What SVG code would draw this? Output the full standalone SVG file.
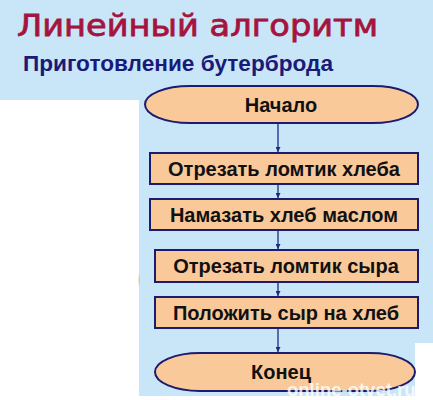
<svg xmlns="http://www.w3.org/2000/svg" width="433" height="400" viewBox="0 0 433 400">
<defs>
<style>
.node{fill:#fac99a;stroke:#1c1c6e;stroke-width:2}
.lbl{font-family:"Liberation Sans",Arial,sans-serif;font-weight:bold;font-size:20px;fill:#111;text-anchor:middle}
.conn{stroke:#1c2a80;stroke-width:1.3;fill:none}
</style>
<marker id="arr" viewBox="0 0 6 6" refX="6" refY="3" markerWidth="5" markerHeight="5" orient="auto" markerUnits="userSpaceOnUse">
<path d="M0,0 L6,3 L0,6 z" fill="#1c2a80"/>
</marker>
</defs>
<rect x="0" y="0" width="433" height="400" fill="#ffffff"/>
<rect x="0" y="0" width="433" height="100" fill="#c9e6f9"/>
<rect x="139" y="0" width="294" height="396" fill="#c9e6f9"/>
<rect x="415" y="343" width="18" height="57" fill="#ffffff"/>
<path d="M139.5,272 q-2,8 0,16 q1,-8 0,-16 z" fill="#f0c190"/>
<text x="17" y="36" font-family="DejaVu Sans, sans-serif" font-size="31" fill="#a5143f" stroke="#a5143f" stroke-width="0.8" textLength="361" lengthAdjust="spacingAndGlyphs">Линейный алгоритм</text>
<text x="23" y="71" font-family="Liberation Sans, Arial, sans-serif" font-weight="bold" font-size="21.5" fill="#1a1a78" textLength="310" lengthAdjust="spacingAndGlyphs">Приготовление бутерброда</text>
<g id="connectors">
<line class="conn" x1="278" y1="124" x2="278" y2="152" marker-end="url(#arr)"/>
<line class="conn" x1="278" y1="185" x2="278" y2="198" marker-end="url(#arr)"/>
<line class="conn" x1="278" y1="231" x2="278" y2="249" marker-end="url(#arr)"/>
<line class="conn" x1="278" y1="283" x2="278" y2="296" marker-end="url(#arr)"/>
<line class="conn" x1="278" y1="329" x2="278" y2="352" marker-end="url(#arr)"/>
</g>
<g id="start">
<rect class="node" x="145" y="86" width="273" height="37" rx="45" ry="18.5"/>
<text class="lbl" x="281" y="112">Начало</text>
</g>
<g id="step1">
<rect class="node" x="150" y="153" width="268" height="31"/>
<text class="lbl" x="284" y="176">Отрезать ломтик хлеба</text>
</g>
<g id="step2">
<rect class="node" x="150" y="199" width="268" height="31"/>
<text class="lbl" x="284" y="222">Намазать хлеб маслом</text>
</g>
<g id="step3">
<rect class="node" x="155" y="250" width="263" height="32"/>
<text class="lbl" x="286" y="273">Отрезать ломтик сыра</text>
</g>
<g id="step4">
<rect class="node" x="155" y="297" width="263" height="31"/>
<text class="lbl" x="286" y="320">Положить сыр на хлеб</text>
</g>
<g id="end">
<rect class="node" x="155" y="353" width="260" height="38" rx="45" ry="19"/>
<text class="lbl" x="281" y="379">Конец</text>
</g>
<text x="287" y="396" font-family="Liberation Sans, Arial, sans-serif" font-weight="bold" font-size="18.5" fill="#ffffff" fill-opacity="0.8">online-otvet.ru</text>
</svg>
